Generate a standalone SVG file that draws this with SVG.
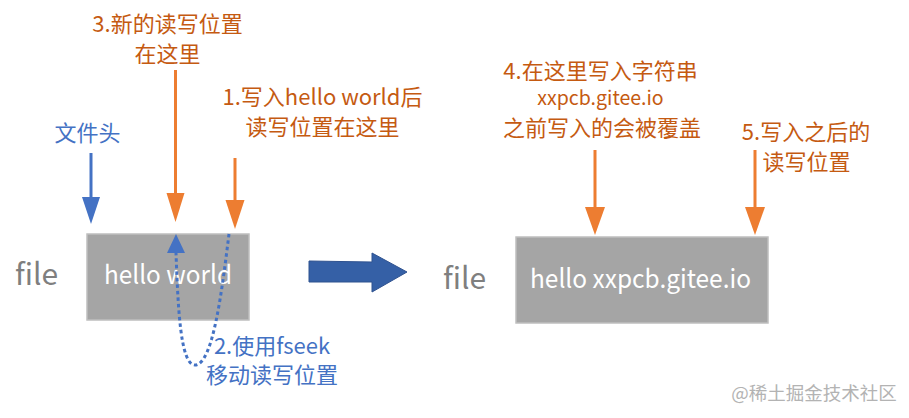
<svg xmlns="http://www.w3.org/2000/svg" width="909" height="418" viewBox="0 0 909 418">
<defs>
<style>
.t{font-family:"Noto Sans CJK SC","Noto Sans",sans-serif;font-size:22px;text-anchor:middle}
.o{fill:#c55a11}
.b{fill:#4472c4}
.fl{font-family:"Noto Sans CJK SC","Noto Sans",sans-serif;font-size:30px;fill:#7f7f7f}
.bx{fill:#a5a5a5;stroke:#bfbfbf;stroke-width:1.5}
.bt{font-family:"Noto Sans CJK SC","Noto Sans",sans-serif;font-size:26px;fill:#ffffff}
.ao{stroke:#ed7d31;stroke-width:3;fill:none}
.ab{stroke:#4472c4;stroke-width:3;fill:none}
</style>
</defs>
<rect width="909" height="418" fill="#ffffff"/>

<g id="file-left">
<text class="fl" x="15" y="285">file</text>
<rect class="bx" x="87" y="234" width="162" height="86"/>
<text class="bt" x="104" y="284" textLength="128" lengthAdjust="spacingAndGlyphs">hello world</text>
</g>

<g id="file-right">
<text class="fl" x="443" y="289">file</text>
<rect class="bx" x="516" y="237" width="252" height="86"/>
<text class="bt" x="530" y="288" textLength="221" lengthAdjust="spacingAndGlyphs">hello xxpcb.gitee.io</text>
</g>

<g id="label-3">
<text class="t o" x="167.5" y="31.5">3.新的读写位置</text>
<text class="t o" x="167.5" y="61.5">在这里</text>
</g>
<g id="label-1">
<text class="t o" x="322.5" y="104.5">1.写入hello world后</text>
<text class="t o" x="322.5" y="134.5">读写位置在这里</text>
</g>
<g id="label-head">
<text class="t b" x="87.5" y="140.5">文件头</text>
</g>
<g id="label-2">
<text class="t b" x="272" y="353.5">2.使用fseek</text>
<text class="t b" x="272" y="382.5">移动读写位置</text>
</g>
<g id="label-4">
<text class="t o" x="600.5" y="78.5">4.在这里写入字符串</text>
<text class="t o" x="600.5" y="105" style="font-size:19.5px">xxpcb.gitee.io</text>
<text class="t o" x="602" y="135.5">之前写入的会被覆盖</text>
</g>
<g id="label-5">
<text class="t o" x="806" y="139.5">5.写入之后的</text>
<text class="t o" x="806.5" y="169.5">读写位置</text>
</g>

<g id="connectors">
<line class="ab" x1="91" y1="153" x2="91" y2="198"/>
<polygon points="82,197 100,197 91,224" fill="#4472c4"/>
<line class="ao" x1="175.5" y1="70" x2="175.5" y2="194"/>
<polygon points="166.5,193 184.5,193 175.5,222" fill="#ed7d31"/>
<line class="ao" x1="235" y1="158" x2="235" y2="201"/>
<polygon points="225.5,200 244.5,200 235,229" fill="#ed7d31"/>
<path d="M229,234 C222,290 213,365 195,365 C180,365 178,305 176,253" fill="none" stroke="#4472c4" stroke-width="3" stroke-dasharray="3.5,3"/>
<polygon points="167,253 185,253 176,234" fill="#4472c4"/>
<polygon points="309,261 372,262 372,253 407,272 372,292 372,282 309,282" fill="#3560a6" stroke="#2f528f" stroke-width="1"/>
<line class="ao" x1="595" y1="150" x2="595" y2="208"/>
<polygon points="585,207 605,207 595,235" fill="#ed7d31"/>
<line class="ao" x1="755" y1="150" x2="755" y2="208"/>
<polygon points="745,207 765,207 755,235" fill="#ed7d31"/>
</g>

<text x="814" y="400" style="font-family:'Noto Sans CJK SC',sans-serif;font-size:18.5px;fill:#b3b3b3;text-anchor:middle">@稀土掘金技术社区</text>
</svg>
